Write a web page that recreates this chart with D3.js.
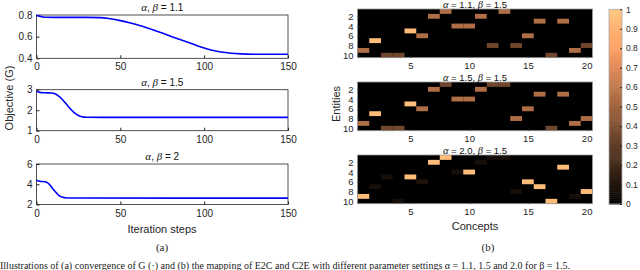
<!DOCTYPE html>
<html>
<head>
<meta charset="utf-8">
<script src="https://cdn.jsdelivr.net/npm/d3@7.9.0/dist/d3.min.js"></script>
<style>
  body { margin: 0; background: #fff; }
  svg { display: block; font-family: "Liberation Sans", Arial, sans-serif; }
  .axis text { fill: #262626; }
  .axis path, .axis line { stroke: #262626; }
</style>
</head>
<body>
<svg id="chart" width="640" height="270"></svg>
<script>
// (a) objective vs iteration steps
const iterA11 = [0, 3, 6, 10, 20, 30, 38, 44, 50, 56, 62, 68, 74, 80, 86, 92, 98, 104, 110, 116, 122, 130, 140, 150];
const objA11 = [0.795, 0.785, 0.779, 0.778, 0.778, 0.778, 0.776, 0.765, 0.748, 0.726, 0.700, 0.670, 0.638, 0.604, 0.571, 0.538, 0.505, 0.477, 0.458, 0.447, 0.441, 0.438, 0.437, 0.437];
const iterA15 = [0, 2, 5, 9, 11, 13, 15, 17, 19, 21, 23, 25, 27, 30, 40, 150];
const objA15 = [2.92, 2.87, 2.85, 2.84, 2.80, 2.70, 2.56, 2.38, 2.18, 2.00, 1.84, 1.74, 1.68, 1.655, 1.65, 1.65];
const iterA20 = [0, 2, 5, 6, 7, 8, 9, 10, 11, 12, 13, 14, 15, 17, 20, 150];
const objA20 = [4.40, 4.30, 4.25, 4.20, 4.10, 3.92, 3.72, 3.50, 3.30, 3.12, 2.95, 2.82, 2.73, 2.67, 2.64, 2.63];

// (b) mapping matrices: [entity, concept, value]
const cellsA11 = [[1,8,0.55],[1,13,0.55],[2,7,0.55],[2,11,0.55],[3,16,0.55],[3,18,0.55],[4,9,0.55],[4,10,0.55],
  [5,5,0.95],[6,6,0.55],[6,15,0.55],[7,2,0.95],[8,12,0.35],[8,14,0.35],[8,20,0.35],[9,1,0.55],[9,19,0.55],
  [10,3,0.35],[10,4,0.35],[10,17,0.35]];
const cellsA15 = [[1,8,0.35],[1,12,0.35],[1,13,0.35],[2,7,0.55],[2,11,0.55],[3,16,0.55],[3,18,0.55],[4,9,0.55],
  [4,10,0.55],[5,5,0.95],[6,6,0.55],[6,15,0.55],[7,2,0.95],[8,14,0.55],[8,20,0.55],[9,1,0.55],[9,19,0.55],
  [10,3,0.35],[10,4,0.35],[10,17,0.35]];
const cellsA20 = [[1,8,0.95],[1,12,0.07],[1,13,0.07],[2,7,0.95],[2,11,0.07],[3,18,0.95],[4,9,0.07],[4,10,0.95],
  [5,3,0.07],[5,5,0.95],[6,6,0.09],[6,15,0.95],[7,2,0.07],[7,16,0.95],[8,14,0.07],[8,20,0.95],[9,1,0.95],
  [9,19,0.07],[10,4,0.07],[10,17,0.95]];

const iterTicks = [0, 50, 100, 150];
const entityTicks = [2, 4, 6, 8, 10];
const conceptTicks = [5, 10, 15, 20];
const colorbarTicks = [0, 0.1, 0.2, 0.3, 0.4, 0.5, 0.6, 0.7, 0.8, 0.9, 1];

const svg = d3.select('#chart');
const plain = d3.format('');

// matlab "copper" colormap
function copper(t) {
  return d3.rgb(Math.min(255, 1.25 * t * 255), 0.7812 * t * 255, 0.4975 * t * 255);
}

function addTitle(g, x, y, parts, size) {
  let t = g.append('text').attr('x', x).attr('y', y).attr('text-anchor', 'middle')
    .attr('font-size', size).attr('fill', '#111');
  parts.forEach(p => {
    let s = t.append('tspan').text(p.text);
    if (p.greek) s.attr('font-family', '"Liberation Serif", serif').attr('font-style', 'italic').attr('font-size', size + 1);
  });
}

// ---------- left: convergence curves ----------
let xIter = d3.scaleLinear().domain([0, 150]).range([36.5, 288]);

function drawCurve(iters, vals, yDomain, yTicks, top, bottom, title) {
  let y = d3.scaleLinear().domain(yDomain).range([bottom, top]);
  let g = svg.append('g');

  g.append('rect').attr('x', xIter(0)).attr('y', top)
    .attr('width', xIter(150) - xIter(0)).attr('height', bottom - top)
    .attr('fill', 'none').attr('stroke', '#262626').attr('stroke-width', 0.8);

  let ax = g.append('g').attr('class', 'axis').attr('transform', `translate(0,${bottom})`)
    .call(d3.axisBottom(xIter).tickValues(iterTicks).tickFormat(plain).tickSize(-3).tickPadding(5).tickSizeOuter(0));
  ax.select('.domain').remove();
  ax.selectAll('text').attr('font-size', 10).attr('font-family', '"Liberation Sans", Arial, sans-serif');

  let ay = g.append('g').attr('class', 'axis').attr('transform', `translate(${xIter(0)},0)`)
    .call(d3.axisLeft(y).tickValues(yTicks).tickFormat(plain).tickSize(-3).tickPadding(4).tickSizeOuter(0));
  ay.select('.domain').remove();
  ay.selectAll('text').attr('font-size', 10).attr('font-family', '"Liberation Sans", Arial, sans-serif');

  let line = d3.line().x((d, i) => xIter(iters[i])).y(d => y(d)).curve(d3.curveMonotoneX);
  g.append('path').datum(vals).attr('d', line)
    .attr('fill', 'none').attr('stroke', '#0000ff').attr('stroke-width', 1.6);

  addTitle(g, (xIter(0) + xIter(150)) / 2, top - 4, title, 10);
}

drawCurve(iterA11, objA11, [0.4, 0.8], [0.4, 0.6, 0.8], 15, 58.3,
  [{text: 'α', greek: true}, {text: ', '}, {text: 'β', greek: true}, {text: ' = 1.1'}]);
drawCurve(iterA15, objA15, [1, 3], [1, 2, 3], 89.7, 130.7,
  [{text: 'α', greek: true}, {text: ', '}, {text: 'β', greek: true}, {text: ' = 1.5'}]);
drawCurve(iterA20, objA20, [2, 6], [2, 4, 6], 164, 204.5,
  [{text: 'α', greek: true}, {text: ', '}, {text: 'β', greek: true}, {text: ' = 2'}]);

svg.append('text').attr('transform', 'translate(13,98) rotate(-90)').attr('text-anchor', 'middle')
  .attr('font-size', 11).attr('fill', '#262626').text('Objective (G)');
svg.append('text').attr('x', 162).attr('y', 233).attr('text-anchor', 'middle')
  .attr('font-size', 11).attr('fill', '#262626').text('Iteration steps');

// ---------- right: mapping heatmaps ----------
let xCon = d3.scaleLinear().domain([0.5, 20.5]).range([357.5, 592.5]);

function drawHeat(cells, top, bottom, title) {
  let y = d3.scaleLinear().domain([0.5, 10.5]).range([top, bottom]);
  let g = svg.append('g');

  g.append('rect').attr('x', xCon(0.5)).attr('y', top)
    .attr('width', xCon(20.5) - xCon(0.5)).attr('height', bottom - top).attr('fill', copper(0));

  g.selectAll('rect.cell').data(cells).join('rect').attr('class', 'cell')
    .attr('x', d => xCon(d[1] - 0.5)).attr('y', d => y(d[0] - 0.5))
    .attr('width', d => xCon(d[1] + 0.5) - xCon(d[1] - 0.5))
    .attr('height', d => y(d[0] + 0.5) - y(d[0] - 0.5))
    .attr('fill', d => copper(d[2]));

  g.append('rect').attr('x', xCon(0.5)).attr('y', top)
    .attr('width', xCon(20.5) - xCon(0.5)).attr('height', bottom - top)
    .attr('fill', 'none').attr('stroke', '#999').attr('stroke-width', 0.8);

  let ax = g.append('g').attr('class', 'axis').attr('transform', `translate(0,${bottom})`)
    .call(d3.axisBottom(xCon).tickValues(conceptTicks).tickFormat(plain).tickSize(-2).tickPadding(5).tickSizeOuter(0));
  ax.select('.domain').remove();
  ax.selectAll('line').attr('stroke', '#999');
  ax.selectAll('text').attr('font-size', 9.5).attr('font-family', '"Liberation Sans", Arial, sans-serif');

  let ay = g.append('g').attr('class', 'axis').attr('transform', `translate(${xCon(0.5)},0)`)
    .call(d3.axisLeft(y).tickValues(entityTicks).tickFormat(plain).tickSize(-2).tickPadding(4).tickSizeOuter(0));
  ay.select('.domain').remove();
  ay.selectAll('line').attr('stroke', '#999');
  ay.selectAll('text').attr('font-size', 9.5).attr('font-family', '"Liberation Sans", Arial, sans-serif');

  addTitle(g, (xCon(0.5) + xCon(20.5)) / 2, top - 1.5, title, 9.5);
}

drawHeat(cellsA11, 9, 57.7,
  [{text: 'α', greek: true}, {text: ' = 1.1, '}, {text: 'β', greek: true}, {text: ' = 1.5'}]);
drawHeat(cellsA15, 82, 130.7,
  [{text: 'α', greek: true}, {text: ' = 1.5, '}, {text: 'β', greek: true}, {text: ' = 1.5'}]);
drawHeat(cellsA20, 155, 203.7,
  [{text: 'α', greek: true}, {text: ' = 2.0, '}, {text: 'β', greek: true}, {text: ' = 1.5'}]);

svg.append('text').attr('transform', 'translate(340,104) rotate(-90)').attr('text-anchor', 'middle')
  .attr('font-size', 11).attr('fill', '#262626').text('Entities');
svg.append('text').attr('x', 475).attr('y', 230).attr('text-anchor', 'middle')
  .attr('font-size', 11).attr('fill', '#262626').text('Concepts');

// colorbar
let yBar = d3.scaleLinear().domain([0, 1]).range([204, 9.3]);
let steps = d3.range(0, 1, 0.01);
svg.append('g').selectAll('rect').data(steps).join('rect')
  .attr('x', 609).attr('width', 13)
  .attr('y', d => yBar(d + 0.01)).attr('height', d => yBar(d) - yBar(d + 0.01) + 0.5)
  .attr('fill', d => copper(d + 0.005));
svg.append('rect').attr('x', 609).attr('y', yBar(1)).attr('width', 13).attr('height', yBar(0) - yBar(1))
  .attr('fill', 'none').attr('stroke', '#aaa').attr('stroke-width', 0.8);
let cb = svg.append('g').attr('class', 'axis').attr('transform', 'translate(622,0)')
  .call(d3.axisRight(yBar).tickValues(colorbarTicks).tickFormat(plain).tickSize(-2).tickPadding(4).tickSizeOuter(0));
cb.select('.domain').remove();
cb.selectAll('line').attr('stroke', '#aaa');
cb.selectAll('text').attr('font-size', 8.5).attr('font-family', '"Liberation Sans", Arial, sans-serif');

// sub captions
svg.append('text').attr('x', 162).attr('y', 251).attr('text-anchor', 'middle')
  .attr('font-family', '"Liberation Serif", serif').attr('font-size', 11).attr('fill', '#222').text('(a)');
svg.append('text').attr('x', 488).attr('y', 251).attr('text-anchor', 'middle')
  .attr('font-family', '"Liberation Serif", serif').attr('font-size', 11).attr('fill', '#222').text('(b)');
svg.append('text').attr('x', 0).attr('y', 269).attr('font-family', '"Liberation Serif", serif')
  .attr('font-size', 10).attr('fill', '#222')
  .text('Illustrations of (a) convergence of G (·) and (b) the mapping of E2C and C2E with different parameter settings α = 1.1, 1.5 and 2.0 for β = 1.5.');
</script>
</body>
</html>
